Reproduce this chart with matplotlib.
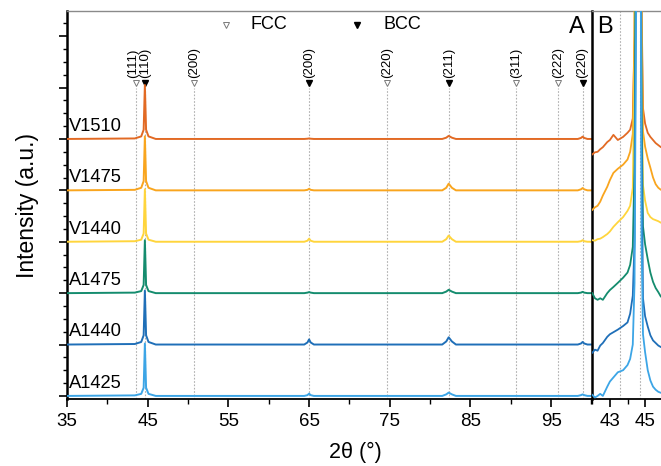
import matplotlib.pyplot as plt
from matplotlib.ticker import FixedLocator, NullFormatter

plt.rcParams["font.family"] = ["Liberation Sans", "DejaVu Sans"]

# stacked XRD patterns, bottom to top
samples = ["A1425", "A1440", "A1475", "V1440", "V1475", "V1510"]
colors = ["#3ca5e6", "#1f6fb8", "#148c6e", "#ffd53c", "#f9a51e", "#e26a24"]

# full scan (panel A), intensity above each sample's own baseline
theta_a = [35.0, 43.4, 44.2, 44.5, 44.65, 44.8, 45.1, 46.0,
           64.4, 64.8, 65.0, 65.2, 65.6,
           81.5, 82.0, 82.3, 82.7, 83.2,
           98.3, 98.7, 98.9, 99.1, 99.5, 100.2]
scan_a = {
    "A1425": [0.0, 0.01, 0.04, 0.16, 1.02, 0.16, 0.04, 0.0,
              0.0, 0.015, 0.045, 0.015, 0.0,
              0.0, 0.03, 0.065, 0.03, 0.0,
              0.0, 0.015, 0.03, 0.015, 0.0, 0.0],
    "A1440": [0.0, 0.01, 0.05, 0.18, 1.05, 0.18, 0.05, 0.0,
              0.0, 0.04, 0.10, 0.04, 0.0,
              0.0, 0.06, 0.14, 0.06, 0.0,
              0.0, 0.02, 0.05, 0.02, 0.0, 0.0],
    "A1475": [0.0, 0.01, 0.04, 0.16, 1.03, 0.16, 0.04, 0.0,
              0.0, 0.01, 0.02, 0.01, 0.0,
              0.0, 0.03, 0.065, 0.03, 0.0,
              0.0, 0.01, 0.025, 0.01, 0.0, 0.0],
    "V1440": [0.0, 0.01, 0.04, 0.16, 1.02, 0.16, 0.04, 0.0,
              0.0, 0.02, 0.06, 0.02, 0.0,
              0.0, 0.05, 0.12, 0.05, 0.0,
              0.0, 0.01, 0.03, 0.01, 0.0, 0.0],
    "V1475": [0.0, 0.01, 0.05, 0.18, 1.05, 0.18, 0.05, 0.0,
              0.0, 0.01, 0.03, 0.01, 0.0,
              0.0, 0.05, 0.13, 0.05, 0.0,
              0.0, 0.02, 0.045, 0.02, 0.0, 0.0],
    "V1510": [0.0, 0.01, 0.05, 0.18, 1.05, 0.18, 0.05, 0.0,
              0.0, 0.005, 0.01, 0.005, 0.0,
              0.0, 0.025, 0.06, 0.025, 0.0,
              0.0, 0.02, 0.045, 0.02, 0.0, 0.0],
}

# enlarged view around the main reflection (panel B)
theta_b = [42.0, 42.15, 42.3, 42.45, 42.6, 42.85, 43.0, 43.2, 43.45, 43.75,
           44.0, 44.15, 44.3, 44.4, 44.48, 44.6, 44.72, 44.8, 44.88, 45.0,
           45.15, 45.3, 45.45, 45.6, 45.75, 45.9, 46.5]
scan_b = {
    "A1425": [0.02, -0.03, 0.0, 0.04, 0.0, 0.18, 0.28, 0.36, 0.46, 0.5,
              0.6, 0.72, 1.0, 2.2, 7.0, 12.0, 12.0, 3.0, 1.2, 0.85,
              0.5, 0.3, 0.18, 0.12, 0.08, 0.06, 0.05],
    "A1440": [-0.16, -0.1, -0.12, -0.02, 0.03, 0.15, 0.2, 0.24, 0.29, 0.36,
              0.43, 0.6, 0.95, 2.0, 7.0, 15.0, 14.0, 4.0, 0.9, 0.55,
              0.35, 0.18, 0.08, 0.03, -0.02, -0.05, -0.06],
    "A1475": [0.0, -0.1, -0.13, -0.1, -0.13, 0.0, 0.06, 0.12, 0.2, 0.3,
              0.4, 0.55, 0.9, 2.5, 8.0, 18.0, 10.0, 3.5, 1.3, 0.95,
              0.66, 0.4, 0.22, 0.1, 0.02, -0.07, -0.1],
    "V1440": [0.03, 0.02, 0.05, 0.06, 0.09, 0.15, 0.2, 0.29, 0.38, 0.48,
              0.6, 0.7, 1.05, 3.5, 10.0, 16.0, 10.0, 3.5, 1.1, 0.8,
              0.56, 0.48, 0.44, 0.42, 0.4, 0.37, 0.35],
    "V1475": [-0.38, -0.33, -0.3, -0.22, -0.1, 0.07, 0.2, 0.34, 0.42, 0.5,
              0.6, 0.75, 1.1, 3.0, 9.0, 16.0, 9.0, 3.4, 1.15, 0.85,
              0.62, 0.44, 0.25, 0.12, 0.05, 0.01, 0.0],
    "V1510": [-0.3, -0.26, -0.25, -0.2, -0.16, -0.06, -0.02, 0.08, -0.02, 0.04,
              0.12, 0.18, 0.4, 2.0, 8.0, 14.0, 8.0, 2.6, 0.6, 0.3,
              0.12, 0.04, -0.02, -0.08, -0.12, -0.16, -0.2],
}

fcc_peaks = [43.6, 50.8, 74.7, 90.7, 95.9]
fcc_labels = ["(111)", "(200)", "(220)", "(311)", "(222)"]
bcc_peaks = [44.7, 65.0, 82.3, 98.9]
bcc_labels = ["(110)", "(200)", "(211)", "(220)"]
zoom_lines = [43.6, 44.7]

W, H = 661, 466
fig = plt.figure(figsize=(W / 100, H / 100), dpi=100)

left, right, top, bottom = 67, 592.3, 11, 399
ax = fig.add_axes([left / W, 1 - bottom / H, (right - left) / W, (bottom - top) / H])
ax_b = fig.add_axes([right / W, 1 - bottom / H, 88 / W, (bottom - top) / H])

ymin, ymax = -0.06, 7.49
for a in (ax, ax_b):
    a.set_ylim(ymin, ymax)
    a.spines["top"].set_color("#8a8a8a")
    a.spines["top"].set_linewidth(1.0)
    a.spines["bottom"].set_linewidth(1.3)
    a.spines["right"].set_visible(False)
    a.tick_params(axis="x", which="major", direction="out", length=6, width=1.2,
                  labelsize=13.5, pad=4)
    a.tick_params(axis="x", which="minor", direction="out", length=3.5, width=1.0)
ax.spines["left"].set_linewidth(1.8)
ax_b.spines["left"].set_linewidth(1.8)

# marker rows and dotted reference lines
mark_y = 6.09
for pos, lab in zip(fcc_peaks, fcc_labels):
    ax.vlines(pos, ymin, mark_y - 0.1, color="#b0b0b0", lw=0.8, ls=(0, (1.5, 1.5)), zorder=1)
    ax.plot(pos, mark_y, marker="v", ms=4, mfc="white", mec="#7a7a7a", mew=0.7, ls="none")
    dx = -0.4 if lab == "(111)" else 0.0
    ax.text(pos + dx, mark_y + 0.1, lab, rotation=90, ha="center", va="bottom", fontsize=9.5)
for pos, lab in zip(bcc_peaks, bcc_labels):
    ax.vlines(pos, ymin, mark_y - 0.1, color="#b0b0b0", lw=0.8, ls=(0, (1.5, 1.5)), zorder=1)
    ax.plot(pos, mark_y, marker="v", ms=4, color="black", ls="none")
    ax.text(pos, mark_y + 0.1, lab, rotation=90, ha="center", va="bottom", fontsize=9.5)

for pos in zoom_lines:
    ax_b.axvline(pos, color="#b0b0b0", lw=0.8, ls=(0, (1.5, 1.5)), zorder=1)

# stacked patterns
for i in reversed(range(len(samples))):
    name = samples[i]
    ax.plot(theta_a, [v + i for v in scan_a[name]], color=colors[i], lw=1.4, zorder=3)
    ax_b.plot(theta_b, [v + i for v in scan_b[name]], color=colors[i], lw=1.3, zorder=3)
    ax.text(35.2, i + 0.08, name, fontsize=13.2, ha="left", va="bottom")

# phase key
ax.plot(54.7, 7.22, marker="v", ms=4, mfc="white", mec="#7a7a7a", mew=0.7, ls="none")
ax.text(57.7, 7.22, "FCC", fontsize=13, va="center", ha="left")
ax.plot(70.9, 7.22, marker="v", ms=4, color="black", ls="none")
ax.text(74.2, 7.22, "BCC", fontsize=13, va="center", ha="left")

fig.text(585 / W, 1 - 27 / H, "A", fontsize=17, ha="right", va="center")
fig.text(597 / W, 1 - 27 / H, "B", fontsize=17, ha="left", va="center")

ax.set_xlim(35, 100.1)
ax.xaxis.set_major_locator(FixedLocator([35, 45, 55, 65, 75, 85, 95]))
ax.xaxis.set_minor_locator(FixedLocator([40, 50, 60, 70, 80, 90, 100]))
ax.yaxis.set_major_locator(FixedLocator(range(0, 8)))
ax.yaxis.set_minor_locator(FixedLocator([k / 4 for k in range(0, 30)]))
ax.yaxis.set_major_formatter(NullFormatter())
ax.tick_params(axis="y", which="major", direction="out", length=6, width=1.2)
ax.tick_params(axis="y", which="minor", direction="out", length=3, width=1.0)

ax_b.set_xlim(42, 47)
ax_b.xaxis.set_major_locator(FixedLocator([43, 45]))
ax_b.xaxis.set_minor_locator(FixedLocator([42, 44, 46]))
ax_b.set_yticks([])

ax.set_ylabel("Intensity (a.u.)", fontsize=16.5, labelpad=11)
fig.text(355 / W, 1 - 452 / H, "2θ (°)", fontsize=15.5, ha="center", va="center")

fig.savefig("out.png", dpi=100)
